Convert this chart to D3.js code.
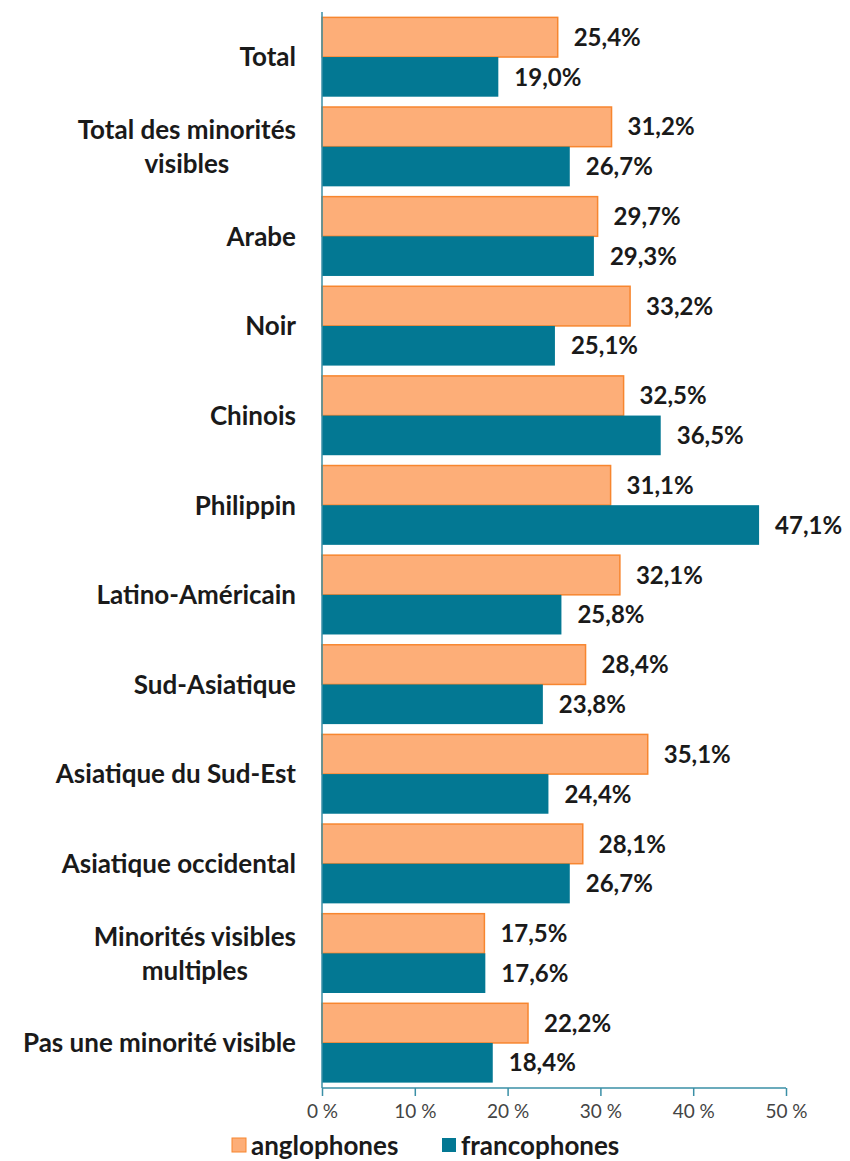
<!DOCTYPE html>
<html>
<head>
<meta charset="utf-8">
<script src="https://cdn.jsdelivr.net/npm/d3@7"></script>
<style>
  body { margin: 0; background: white; }
  text { font-family: Lato, "Open Sans", sans-serif; }
</style>
</head>
<body>
<div id="container"></div>
<script>
let w = 850;
let h = 1161;

// DATA
let categories = ["Total", "Total des minorités|visibles", "Arabe", "Noir", "Chinois", "Philippin",
  "Latino-Américain", "Sud-Asiatique", "Asiatique du Sud-Est", "Asiatique occidental",
  "Minorités visibles|multiples", "Pas une minorité visible"];
let anglophones = [25.4, 31.2, 29.7, 33.2, 32.5, 31.1, 32.1, 28.4, 35.1, 28.1, 17.5, 22.2];
let francophones = [19.0, 26.7, 29.3, 25.1, 36.5, 47.1, 25.8, 23.8, 24.4, 26.7, 17.6, 18.4];
let series = ["anglophones", "francophones"];
let tickValues = [0, 10, 20, 30, 40, 50];

let orangeFill = "#fdae78";
let orangeStroke = "#f7862f";
let teal = "#037893";
let axisColor = "#3a8fa6";

let plotLeft = 322, plotRight = 786, plotTop = 12, plotBottom = 1088;

let viz = d3.select("#container").append("svg")
    .attr("width", w)
    .attr("height", h);

let xScale = d3.scaleLinear().domain([0, 50]).range([plotLeft, plotRight]);
let yScale = d3.scaleBand().domain(categories).range([plotTop, plotBottom])
    .paddingInner(0.115).paddingOuter(0.06);
let subScale = d3.scaleBand().domain(series).range([0, yScale.bandwidth()]);

let rows = categories.map(function(c, i){
  return {cat: c, values: [anglophones[i], francophones[i]]};
});

let groups = viz.selectAll(".row").data(rows).enter()
  .append("g")
    .attr("class", "row")
    .attr("transform", function(d){ return "translate(0," + yScale(d.cat) + ")"; });

groups.selectAll("rect").data(function(d){
    return series.map(function(s, j){ return {s: s, v: d.values[j]}; });
  }).enter()
  .append("rect")
    .attr("x", xScale(0))
    .attr("y", function(d){ return subScale(d.s); })
    .attr("width", function(d){ return xScale(d.v) - xScale(0); })
    .attr("height", subScale.bandwidth())
    .attr("fill", function(d){ return d.s == "anglophones" ? orangeFill : teal; })
    .attr("stroke", function(d){ return d.s == "anglophones" ? orangeStroke : "none"; })
    .attr("stroke-width", 1.5);

// value labels
groups.selectAll(".val").data(function(d){
    return series.map(function(s, j){ return {s: s, v: d.values[j]}; });
  }).enter()
  .append("text")
    .attr("class", "val")
    .attr("x", function(d){ return xScale(d.v) + 16; })
    .attr("y", function(d){ return subScale(d.s) + subScale.bandwidth() / 2; })
    .attr("dy", "0.36em")
    .attr("font-size", 24)
    .attr("font-weight", "bold")
    .attr("fill", "#1a1a1a")
    .text(function(d){ return d.v.toFixed(1).replace(".", ",") + "%"; });

// category labels
groups.each(function(d){
  let lines = d.cat.split("|");
  let g = d3.select(this);
  let mid = yScale.bandwidth() / 2;
  if (lines.length == 1) {
    g.append("text")
      .attr("font-size", 26)
      .attr("font-weight", "bold")
      .attr("fill", "#1a1a1a")
      .attr("x", 296).attr("y", mid).attr("dy", "0.36em")
      .attr("text-anchor", "end").text(lines[0]);
  } else {
    let texts = lines.map(function(l, k){
      return g.append("text")
        .attr("font-size", 26)
        .attr("font-weight", "bold")
        .attr("fill", "#1a1a1a")
        .attr("y", mid + (k - 0.5) * 34)
        .attr("dy", "0.36em")
        .attr("text-anchor", "middle")
        .text(l);
    });
    let maxW = d3.max(texts, function(tt){ return tt.node().getComputedTextLength(); });
    texts.forEach(function(tt){ tt.attr("x", 296 - maxW / 2); });
  }
});

// axes
let xAxis = d3.axisBottom(xScale).tickValues(tickValues).tickSize(8)
    .tickFormat(function(d){ return d + " %"; });
let gx = viz.append("g")
    .attr("transform", "translate(0," + plotBottom + ")")
    .call(xAxis);
gx.select(".domain").attr("stroke", axisColor).attr("stroke-width", 1.5)
  .attr("d", "M" + plotLeft + ",0H" + plotRight);
gx.selectAll(".tick line").attr("stroke", axisColor).attr("stroke-width", 1.5);
gx.selectAll(".tick text")
  .attr("font-family", "Lato, sans-serif")
  .attr("font-size", 19)
  .attr("fill", "#444")
  .attr("y", 17);

viz.append("line")
  .attr("x1", plotLeft).attr("x2", plotLeft)
  .attr("y1", plotTop).attr("y2", plotBottom)
  .attr("stroke", axisColor)
  .attr("stroke-width", 1.5);

// legend
let legendX = [232, 442];
series.forEach(function(s, i){
  viz.append("rect")
    .attr("x", legendX[i]).attr("y", 1138)
    .attr("width", 14).attr("height", 14)
    .attr("fill", i == 0 ? orangeFill : teal)
    .attr("stroke", i == 0 ? orangeStroke : "none");
  viz.append("text")
    .attr("x", legendX[i] + 19).attr("y", 1146)
    .attr("dy", "0.36em")
    .attr("font-size", 26)
    .attr("font-weight", "bold")
    .attr("fill", "#1a1a1a")
    .text(s);
});
</script>
</body>
</html>
